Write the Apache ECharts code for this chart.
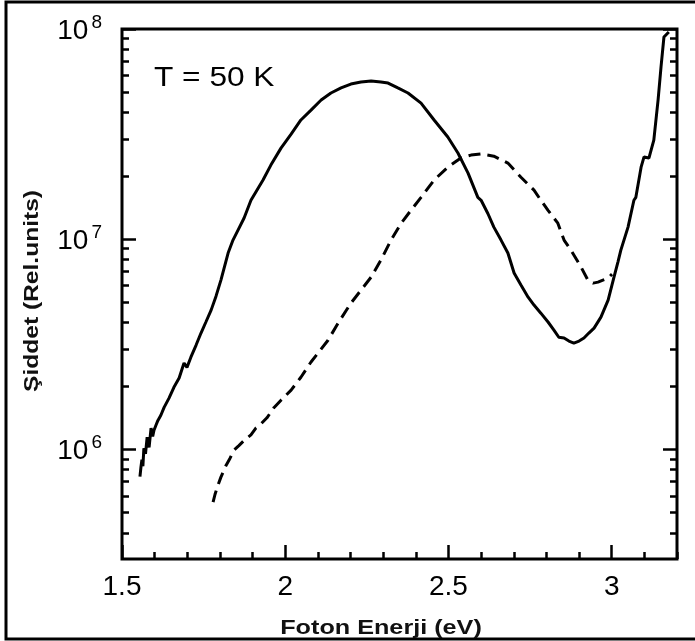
<!DOCTYPE html>
<html>
<head>
<meta charset="utf-8">
<script src="https://cdn.jsdelivr.net/npm/echarts@6/dist/echarts.min.js"></script>
<style>
html,body{margin:0;padding:0;background:#fff;}
#chart{width:695px;height:641px;}
</style>
</head>
<body>
<div id="chart"></div>
<script>
// ---- data ----
const solidX = [1.555,1.558,1.561,1.564,1.567,1.572,1.577,1.583,1.589,1.594,1.598,1.604,1.610,1.619,1.629,1.644,1.659,1.675,1.690,1.699,1.711,1.727,1.742,1.757,1.773,1.788,1.803,1.825,1.840,1.855,1.874,1.895,1.932,1.956,1.987,2.018,2.048,2.079,2.110,2.140,2.171,2.201,2.232,2.263,2.293,2.315,2.345,2.376,2.416,2.456,2.498,2.529,2.560,2.590,2.600,2.621,2.639,2.661,2.682,2.701,2.722,2.744,2.762,2.783,2.805,2.823,2.838,2.854,2.869,2.884,2.900,2.915,2.930,2.946,2.967,2.989,3.007,3.019,3.028,3.050,3.068,3.074,3.090,3.099,3.114,3.129,3.142,3.151,3.160,3.175];
const solidY = [7.4e5,8.2e5,8.9e5,8.3e5,1.01e6,9.5e5,1.14e6,1.02e6,1.26e6,1.15e6,1.23e6,1.30e6,1.37e6,1.45e6,1.58e6,1.75e6,1.97e6,2.18e6,2.57e6,2.45e6,2.74e6,3.13e6,3.57e6,4.03e6,4.59e6,5.35e6,6.38e6,8.58e6,9.89e6,1.10e7,1.26e7,1.53e7,1.91e7,2.25e7,2.71e7,3.16e7,3.69e7,4.11e7,4.59e7,4.96e7,5.24e7,5.47e7,5.59e7,5.65e7,5.59e7,5.53e7,5.24e7,4.96e7,4.44e7,3.69e7,3.06e7,2.57e7,2.06e7,1.58e7,1.53e7,1.32e7,1.14e7,9.89e6,8.58e6,6.89e6,6.04e6,5.29e6,4.85e6,4.44e6,4.03e6,3.69e6,3.41e6,3.38e6,3.27e6,3.20e6,3.27e6,3.38e6,3.57e6,3.77e6,4.25e6,5.12e6,6.59e6,7.77e6,8.86e6,1.14e7,1.53e7,1.58e7,2.20e7,2.46e7,2.43e7,2.96e7,4.59e7,6.59e7,9.16e7,9.68e7];
const dashX = [1.779,1.785,1.794,1.803,1.819,1.831,1.843,1.858,1.874,1.895,1.910,1.926,1.944,1.966,1.987,2.018,2.048,2.079,2.100,2.131,2.162,2.201,2.232,2.263,2.293,2.324,2.355,2.385,2.416,2.456,2.498,2.538,2.569,2.600,2.639,2.682,2.722,2.762,2.783,2.805,2.835,2.854,2.875,2.906,2.927,2.943,2.958,2.973,2.989,3.001];
const dashY = [5.59e5,6.1e5,6.74e5,7.36e5,8.39e5,9.06e5,9.89e5,1.04e6,1.10e6,1.17e6,1.26e6,1.32e6,1.41e6,1.58e6,1.71e6,1.91e6,2.20e6,2.60e6,2.86e6,3.30e6,3.98e6,4.95e6,5.71e6,6.59e6,7.94e6,9.89e6,1.19e7,1.37e7,1.58e7,1.91e7,2.20e7,2.43e7,2.51e7,2.54e7,2.48e7,2.30e7,1.97e7,1.71e7,1.53e7,1.37e7,1.19e7,9.89e6,8.86e6,7.36e6,6.38e6,6.17e6,6.24e6,6.38e6,6.52e6,6.81e6];
const xMajorTicks = [1.5, 2, 2.5, 3];
const yMajorTicks = [1e6, 1e7, 1e8];
const yMinorTicks = [4e5,5e5,6e5,7e5,8e5,9e5,2e6,3e6,4e6,5e6,6e6,7e6,8e6,9e6,2e7,3e7,4e7,5e7,6e7,7e7,8e7,9e7];
const xTitle = 'Foton Enerji (eV)';
const yTitle = 'Şiddet (Rel.units)';
const tempLabel = 'T = 50 K';

function zip(a, b) { return a.map((v, i) => [v, b[i]]); }

const FONT = 'Liberation Sans, Arial, sans-serif';
const chart = echarts.init(document.getElementById('chart'));

function yAxisCfg(pos, major, showLabel) {
  return {
    type: 'log', logBase: 10, min: 3e5, max: 1e8, position: pos,
    axisLine: { show: false },
    splitLine: { show: false },
    axisTick: {
      show: true, inside: true, length: major ? 14 : 7,
      lineStyle: { color: '#000', width: 2.5 },
      customValues: major ? yMajorTicks : yMinorTicks
    },
    axisLabel: {
      show: showLabel, margin: 20, fontSize: 28, fontFamily: FONT, color: '#000',
      customValues: yMajorTicks,
      formatter: function (v) {
        const e = Math.round(Math.log10(v));
        return '{a|10}{b|' + e + '}';
      },
      rich: {
        a: { fontSize: 28, fontFamily: FONT, color: '#000', verticalAlign: 'bottom', lineHeight: 32 },
        b: { fontSize: 19, fontFamily: FONT, color: '#000', verticalAlign: 'top', lineHeight: 32, padding: [0, 0, 0, 3] }
      }
    }
  };
}

const option = {
  animation: false,
  backgroundColor: '#fff',
  grid: {
    left: 122, right: 18, top: 29, bottom: 82,
    show: true, borderColor: '#000', borderWidth: 3, backgroundColor: 'transparent'
  },
  xAxis: [
    {
      type: 'value', min: 1.5, max: 3.2, interval: 0.5, position: 'bottom',
      axisLine: { show: false }, splitLine: { show: false },
      axisTick: { show: true, inside: true, length: 14, lineStyle: { color: '#000', width: 2.5 }, customValues: xMajorTicks },
      axisLabel: { show: true, margin: 14, fontSize: 28, fontFamily: FONT, color: '#000', customValues: xMajorTicks,
        formatter: function (v) { return String(v); } }
    },
    {
      type: 'value', min: 1.5, max: 3.2, interval: 0.1, position: 'bottom',
      axisLine: { show: false }, splitLine: { show: false },
      axisTick: { show: true, inside: true, length: 7, lineStyle: { color: '#000', width: 2.5 } },
      axisLabel: { show: false }
    }
  ],
  yAxis: [
    yAxisCfg('left', true, true),
    yAxisCfg('left', false, false),
    yAxisCfg('right', true, false),
    yAxisCfg('right', false, false)
  ],
  series: [
    {
      type: 'line', name: 'solid', xAxisIndex: 0, yAxisIndex: 0, showSymbol: false, symbol: 'none',
      data: zip(solidX, solidY), clip: true,
      lineStyle: { color: '#000', width: 3, type: 'solid' }
    },
    {
      type: 'line', name: 'dashed', xAxisIndex: 0, yAxisIndex: 0, showSymbol: false, symbol: 'none',
      data: zip(dashX, dashY), clip: true,
      lineStyle: { color: '#000', width: 3, type: [12, 7] }
    }
  ],
  graphic: [
    { type: 'rect', shape: { x: 6, y: 2, width: 720, height: 637 }, style: { fill: 'none', stroke: '#000', lineWidth: 3 }, silent: true },
    { type: 'text', x: 154, y: 78, scaleX: 1.13, style: { text: tempLabel, fontSize: 28, fontFamily: FONT, fill: '#000', textAlign: 'left', textVerticalAlign: 'middle' } },
    { type: 'text', x: 381, y: 628, scaleX: 1.2, style: { text: xTitle, fontSize: 21, fontWeight: 'bold', fontFamily: FONT, fill: '#111', textAlign: 'center', textVerticalAlign: 'middle' } },
    { type: 'text', x: 32, y: 291, rotation: Math.PI / 2, scaleX: 1.17, style: { text: yTitle, fontSize: 21, fontWeight: 'bold', fontFamily: FONT, fill: '#111', textAlign: 'center', textVerticalAlign: 'middle' } }
  ]
};
chart.setOption(option);
</script>
</body>
</html>
